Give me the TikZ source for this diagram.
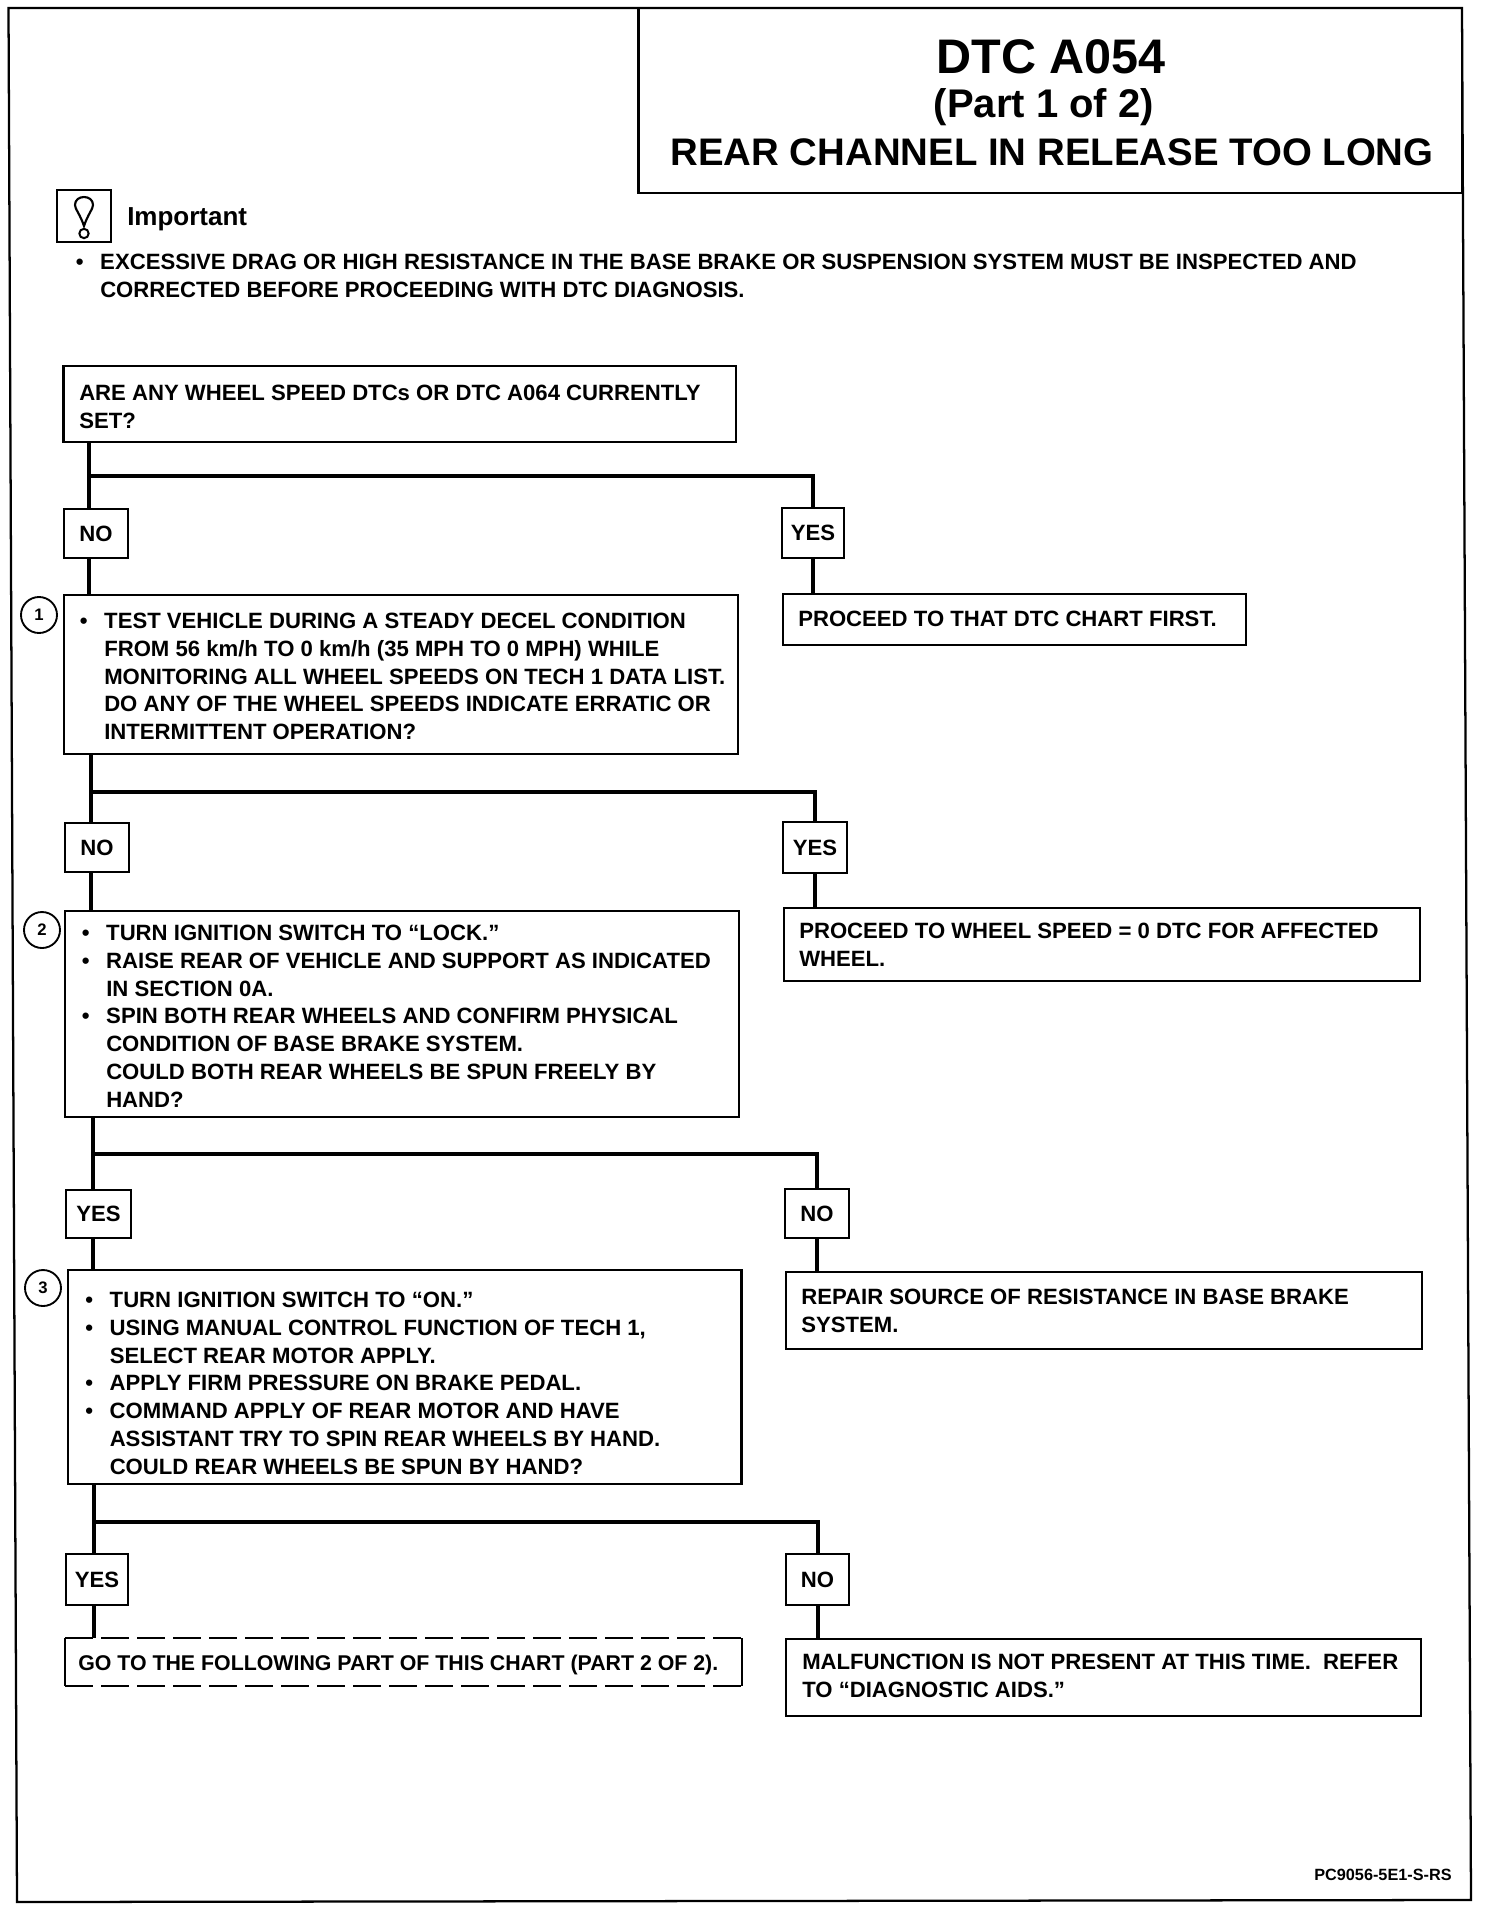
\documentclass[tikz,border=0pt]{standalone}
\usepackage{fontspec}
\setmainfont{Liberation Sans}
\usepackage{tikz}
\usetikzlibrary{positioning}

\newcommand{\bulletmark}{\llap{\textbullet\hspace{0.75em}}}

\tikzset{
  chartbox/.style={draw,line width=1.6pt,anchor=north west,inner sep=0pt,outer sep=0pt},
  sized/.style 2 args={minimum width=#1*0.75pt,minimum height=#2*0.75pt},
  answerbox/.style={chartbox,line width=1.8pt,font=\fontsize{16.6}{20.8}\bfseries\selectfont},
  chartlabel/.style={anchor=north west,inner sep=0pt,align=left,font=\fontsize{16.6}{20.8}\bfseries\selectfont},
  stepmark/.style={draw,circle,line width=1.4pt,inner sep=0pt,minimum size=27pt,font=\fontsize{12.5}{14}\bfseries\selectfont},
  branchline/.style={line width=3pt},
  dashedrun/.style={line width=1.7pt,dash pattern={on 21pt off 6pt}},
  titleline/.style={inner sep=0pt,anchor=center,font=\bfseries}
}

\begin{document}
\begin{tikzpicture}[x=0.75pt,y=0.75pt,yscale=-1,xscale=1]
  \useasboundingbox (0,0) rectangle (1488,1910);

  %Shape: outer frame
  \draw [line width=1.7pt] (8.5,8) -- (1462,8) -- (1471,1900) -- (17,1902) -- cycle;

  %Shape: title box
  \node [chartbox,sized={823.5}{185}] (titlebox) at (638.5,8) {};
  % Text Node
  \node [titleline,font=\fontsize{36.4}{40}\bfseries\selectfont] (titleone) at (1051,57) {DTC A054};
  \node [titleline,font=\fontsize{30}{34}\bfseries\selectfont] (titletwo) at (1044,107) {(Part 1 of 2)};
  \node [titleline,font=\fontsize{28.8}{32}\bfseries\selectfont] (titlethree) at (1052,152) {REAR CHANNEL IN RELEASE TOO LONG};

  %Shape: important icon
  \node [chartbox,line width=2pt,sized={54}{52}] (iconbox) at (57,190) {};
  \draw [line width=1.6pt] (84,226) .. controls (80,214) and (75,209) .. (75,205) .. controls (75,200) and (79,197) .. (84,197) .. controls (89,197) and (93,200) .. (93,205) .. controls (93,209) and (88,214) .. (84,226) -- cycle;
  \node [draw,circle,line width=1.5pt,inner sep=0pt,minimum size=7pt] (icondot) at (84,233.5) {};
  % Text Node
  \node [chartlabel,font=\fontsize{19.5}{22}\bfseries\selectfont] (important) at (127,207) {Important};
  \node [chartlabel] (notetext) at (100,254) {\bulletmark EXCESSIVE DRAG OR HIGH RESISTANCE IN THE BASE BRAKE OR SUSPENSION SYSTEM MUST BE INSPECTED AND\\CORRECTED BEFORE PROCEEDING WITH DTC DIAGNOSIS.};

  %Shape: question boxes
  \node [chartbox,sized={672.5}{76}] (dtcset) at (63.5,366) {};
  \node [chartbox,sized={674}{159}] (decel) at (64,595) {};
  \node [chartbox,sized={674}{206}] (lockbox) at (65,911) {};
  \node [chartbox,sized={673.5}{214}] (applybox) at (68,1270) {};

  %Shape: result boxes
  \node [chartbox,sized={463}{51}] (firstchart) at (783,594) {};
  \node [chartbox,sized={636}{73}] (zerodtc) at (784,908) {};
  \node [chartbox,sized={636}{77}] (repair) at (786,1272) {};
  \node [chartbox,line width=2pt,sized={635}{77}] (notpresent) at (786,1639) {};
  \node [inner sep=0pt,outer sep=0pt,anchor=north west,sized={677}{48}] (nextpart) at (65,1638) {};

  %Shape: answer boxes
  \node [answerbox,sized={64}{49}] (noone) at (64,509) {NO};
  \node [answerbox,sized={62}{50}] (yesone) at (782,508) {YES};
  \node [answerbox,sized={64}{49}] (notwo) at (65,823) {NO};
  \node [answerbox,sized={64}{51}] (yestwo) at (783,822) {YES};
  \node [answerbox,sized={65}{48}] (yesthree) at (66,1190) {YES};
  \node [answerbox,sized={64}{49}] (nothree) at (785,1189) {NO};
  \node [answerbox,sized={62}{51}] (yesfour) at (66,1554) {YES};
  \node [answerbox,sized={63}{51}] (nofour) at (786,1554) {NO};

  %Straight Lines
  \coordinate (splitone) at (89,476);
  \coordinate (splittwo) at (91,792);
  \coordinate (splitthree) at (92.5,1154);
  \coordinate (splitfour) at (94,1522);

  \draw [branchline] (splitone |- dtcset.south) -- (splitone |- noone.north);
  \draw [branchline] (splitone |- noone.south) -- (splitone |- decel.north);
  \draw [branchline] (splitone) -- (splitone -| yesone) -- (yesone.north);
  \draw [branchline] (yesone.south) -- (yesone |- firstchart.north);

  \draw [branchline] (splittwo |- decel.south) -- (splittwo |- notwo.north);
  \draw [branchline] (splittwo |- notwo.south) -- (splittwo |- lockbox.north);
  \draw [branchline] (splittwo) -- (splittwo -| yestwo) -- (yestwo.north);
  \draw [branchline] (yestwo.south) -- (yestwo |- zerodtc.north);

  \draw [branchline] (splitthree |- lockbox.south) -- (splitthree |- yesthree.north);
  \draw [branchline] (splitthree |- yesthree.south) -- (splitthree |- applybox.north);
  \draw [branchline] (splitthree) -- (splitthree -| nothree) -- (nothree.north);
  \draw [branchline] (nothree.south) -- (nothree |- repair.north);

  \draw [branchline] (splitfour |- applybox.south) -- (splitfour |- yesfour.north);
  \draw [branchline] (splitfour |- yesfour.south) -- (splitfour |- nextpart.north);
  \draw [branchline] (splitfour) -- (splitfour -| nofour) -- (nofour.north);
  \draw [branchline] (nofour.south) -- (nofour |- notpresent.north);

  %Straight Lines: dashed box
  \draw [dashedrun] (nextpart.north west) -- (nextpart.north east);
  \draw [dashedrun] (nextpart.south west) -- (nextpart.south east);
  \draw [line width=1.7pt] (nextpart.north west) -- (nextpart.south west);
  \draw [line width=1.7pt] (nextpart.north east) -- (nextpart.south east);

  %Shape: step marks
  \node [stepmark] (markone) at (39,615) {1};
  \node [stepmark] (marktwo) at (42,930) {2};
  \node [stepmark] (markthree) at (43,1288) {3};

  % Text Node
  \node [chartlabel] (dtcsettext) at (79,385) {ARE ANY WHEEL SPEED DTCs OR DTC A064 CURRENTLY\\SET?};
  % Text Node
  \node [chartlabel] (deceltext) at (104,613) {\bulletmark TEST VEHICLE DURING A STEADY DECEL CONDITION\\FROM 56 km/h TO 0 km/h (35 MPH TO 0 MPH) WHILE\\MONITORING ALL WHEEL SPEEDS ON TECH 1 DATA LIST.\\DO ANY OF THE WHEEL SPEEDS INDICATE ERRATIC OR\\INTERMITTENT OPERATION?};
  % Text Node
  \node [chartlabel] (locktext) at (106,925) {\bulletmark TURN IGNITION SWITCH TO “LOCK.”\\\bulletmark RAISE REAR OF VEHICLE AND SUPPORT AS INDICATED\\IN SECTION 0A.\\\bulletmark SPIN BOTH REAR WHEELS AND CONFIRM PHYSICAL\\CONDITION OF BASE BRAKE SYSTEM.\\COULD BOTH REAR WHEELS BE SPUN FREELY BY\\HAND?};
  % Text Node
  \node [chartlabel] (applytext) at (109.5,1292) {\bulletmark TURN IGNITION SWITCH TO “ON.”\\\bulletmark USING MANUAL CONTROL FUNCTION OF TECH 1,\\SELECT REAR MOTOR APPLY.\\\bulletmark APPLY FIRM PRESSURE ON BRAKE PEDAL.\\\bulletmark COMMAND APPLY OF REAR MOTOR AND HAVE\\ASSISTANT TRY TO SPIN REAR WHEELS BY HAND.\\COULD REAR WHEELS BE SPUN BY HAND?};
  % Text Node
  \node [chartlabel] (firstcharttext) at (798,611) {PROCEED TO THAT DTC CHART FIRST.};
  % Text Node
  \node [chartlabel] (zerodtctext) at (799,923) {PROCEED TO WHEEL SPEED = 0 DTC FOR AFFECTED\\WHEEL.};
  % Text Node
  \node [chartlabel] (repairtext) at (801,1289) {REPAIR SOURCE OF RESISTANCE IN BASE BRAKE\\SYSTEM.};
  % Text Node
  \node [chartlabel,font=\fontsize{16}{20.8}\bfseries\selectfont] (nextparttext) at (78,1655) {GO TO THE FOLLOWING PART OF THIS CHART (PART 2 OF 2).};
  % Text Node
  \node [chartlabel] (notpresenttext) at (802,1654) {MALFUNCTION IS NOT PRESENT AT THIS TIME.\ \ REFER\\TO “DIAGNOSTIC AIDS.”};
  % Text Node
  \node [chartlabel,font=\fontsize{12.2}{14}\bfseries\selectfont] (partcode) at (1314,1869) {PC9056-5E1-S-RS};
\end{tikzpicture}
\end{document}
